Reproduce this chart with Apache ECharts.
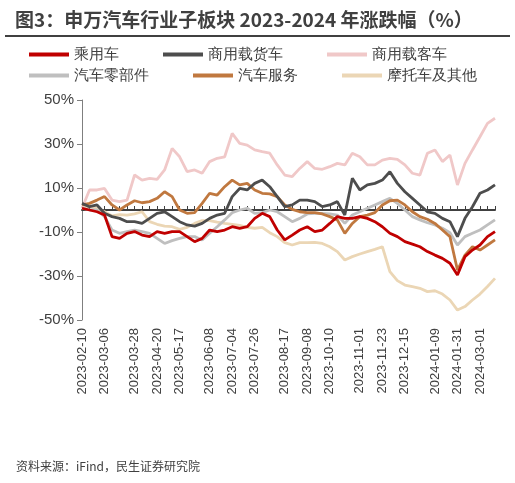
<!DOCTYPE html><html><head><meta charset="utf-8"><script src="https://cdn.jsdelivr.net/npm/echarts@6/dist/echarts.min.js"></script></head><body style="margin:0"><div id="c" style="width:515px;height:483px"></div><script>
const tickLabels=['2023-02-10','2023-03-06','2023-03-28','2023-04-20','2023-05-17','2023-06-08','2023-07-04','2023-07-26','2023-08-17','2023-09-08','2023-10-10','2023-11-01','2023-11-23','2023-12-15','2024-01-09','2024-01-31','2024-03-01'];
// pixel-read raw values (zoom coords), converted below
const pinkRaw=[355,300,300,295,330,335,330,255,270,265,268,240,175,200,245,240,250,215,205,200,130,160,165,180,185,190,225,255,260,235,215,235,238,230,220,225,190,200,225,225,210,205,208,225,250,255,190,180,215,195,285,220,180,140,100,85];
const redRaw=[355,360,365,375,440,445,430,425,435,440,425,430,425,425,440,455,445,420,425,420,410,415,410,385,370,380,420,450,435,420,410,425,420,400,380,385,385,380,385,395,410,430,440,455,462,470,485,495,505,520,555,500,480,465,440,425];
const darkRaw=[340,350,345,370,380,385,395,395,400,385,370,365,380,395,405,408,400,385,375,370,320,295,300,280,270,290,320,350,345,330,330,335,350,345,335,375,265,300,285,280,270,245,280,305,325,345,365,370,385,395,440,385,350,310,300,285];
const greyRaw=[355,360,360,380,420,430,425,420,425,430,445,460,452,445,440,440,450,430,410,390,368,360,355,370,368,360,365,380,395,385,372,370,370,372,375,400,375,365,355,345,335,325,340,360,380,390,398,405,415,428,465,440,430,420,405,390];
const brownRaw=[345,340,330,320,345,360,345,332,338,335,325,305,320,360,370,368,340,310,315,290,270,285,280,300,310,312,320,345,358,365,368,368,372,380,390,430,400,380,375,368,345,332,330,345,365,380,388,400,420,440,540,495,470,480,465,450];
const beigeRaw=[350,350,355,365,378,374,375,372,365,395,403,408,410,418,412,400,392,392,396,400,403,406,412,415,412,428,440,458,465,458,458,457,460,470,485,510,500,492,485,478,470,545,572,585,590,595,605,602,612,630,660,650,630,612,590,565];
const conv=a=>a.map(v=>+((360-v)/6.6).toFixed(1));
const N=pinkRaw.length;
const cats=[];for(let i=0;i<N;i++)cats.push('p'+i);
tickLabels.forEach((t,k)=>{const idx=Math.round(k*3.33);if(idx<N)cats[idx]=t;});
const mk=(name,raw,color,z)=>({name,type:'line',data:conv(raw),showSymbol:false,z,lineStyle:{width:2.8,color},itemStyle:{color}});
const ch=echarts.init(document.getElementById('c'));
ch.setOption({
 title:{text:'图3：申万汽车行业子板块 2023-2024 年涨跌幅（%）',left:10,top:5,textStyle:{fontSize:19,fontWeight:'bold',color:'#404040',fontFamily:'Noto Sans CJK SC'}},
 graphic:[{type:'rect',shape:{x:5,y:35,width:505,height:2},style:{fill:'#404040'}},
  {type:'text',left:16,top:460,style:{text:'资料来源：iFind，民生证券研究院',fontSize:12,fill:'#404040',fontFamily:'Noto Sans CJK SC'}}],
 legend:[{data:['乘用车','商用载货车','商用载客车'],top:42,left:24,itemGap:44,itemWidth:40,itemHeight:4,icon:'rect',textStyle:{fontSize:15,color:'#404040',width:94}},
  {data:['汽车零部件','汽车服务','摩托车及其他'],top:63,left:24,itemGap:44,itemWidth:40,itemHeight:4,icon:'rect',textStyle:{fontSize:15,color:'#404040',width:94}}],
 grid:{left:82,right:20,top:100,bottom:163},
 xAxis:[{type:'category',data:cats,boundaryGap:false,axisLine:{show:false,onZero:false},axisTick:{show:false},
   axisLabel:{rotate:90,fontSize:13,color:'#404040',interval:0,formatter:v=>v[0]==='p'?'':v}},
  {type:'category',data:cats,boundaryGap:false,position:'bottom',axisLine:{onZero:true,lineStyle:{color:'#404040',width:2}},axisTick:{interval:0,inside:true,length:4,lineStyle:{color:'#404040'}},axisLabel:{show:false}}],
 yAxis:{type:'value',min:-50,max:50,interval:20,axisLine:{show:true,lineStyle:{color:'#7f7f7f'}},axisTick:{show:true,length:5,lineStyle:{color:'#7f7f7f'}},splitLine:{show:false},axisLabel:{formatter:'{value}%',fontSize:15,color:'#404040'}},
 series:[mk('摩托车及其他',beigeRaw,'#EBD6B5',2),mk('商用载客车',pinkRaw,'#F0C8C8',3),mk('汽车零部件',greyRaw,'#BFBFBF',4),mk('汽车服务',brownRaw,'#C0783F',5),mk('商用载货车',darkRaw,'#4D4D4D',6),mk('乘用车',redRaw,'#C00000',7)]
});
</script></body></html>
